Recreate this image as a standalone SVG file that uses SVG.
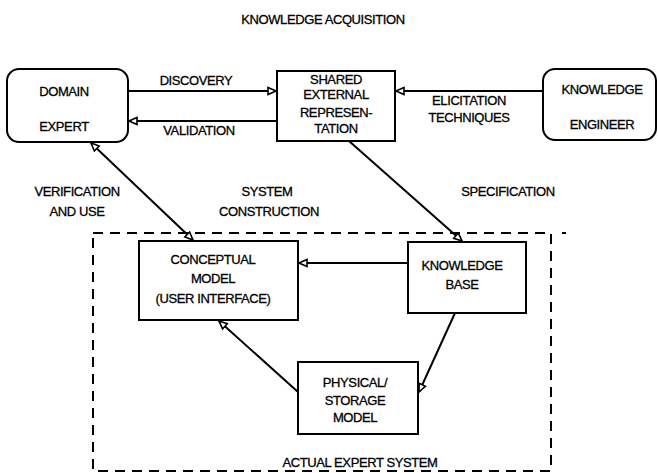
<svg xmlns="http://www.w3.org/2000/svg" width="658" height="473" viewBox="0 0 658 473">
  <style>
    .box { fill: #fff; stroke: #000; stroke-width: 2; }
    .lbl { font-family: "Liberation Sans", Arial, sans-serif; font-size: 13px; fill: #000; stroke: #000; stroke-width: 0.3; text-anchor: middle; letter-spacing: -0.4px; }
    .wire { fill: none; stroke: #000; stroke-width: 2; }
    .frame { fill: none; stroke: #000; stroke-width: 2; stroke-dasharray: 10 7; }
  </style>
  <defs>
    <marker id="tri" viewBox="0 0 10 10" refX="9" refY="5" markerWidth="10" markerHeight="10" markerUnits="userSpaceOnUse" orient="auto-start-reverse">
      <path d="M1,1.5 L9,5 L1,8.5 Z" fill="#fff" stroke="#000" stroke-width="1.6"/>
    </marker>
  </defs>

  <rect width="658" height="473" fill="#fff"/>

  <text class="lbl" x="323" y="24">KNOWLEDGE ACQUISITION</text>

  <!-- boundary of the actual expert system -->
  <g id="expert-system-boundary">
    <rect class="frame" x="93" y="233" width="458" height="238"/>
    <path class="wire" d="M562,233 H566"/>
    <text class="lbl" x="360" y="467">ACTUAL EXPERT SYSTEM</text>
  </g>

  <g id="connectors">
    <path class="wire" d="M128,91 H276" marker-end="url(#tri)"/>
    <path class="wire" d="M277,121 H129" marker-end="url(#tri)"/>
    <path class="wire" d="M543,91 H396" marker-end="url(#tri)"/>
    <path class="wire" d="M193,240 L91,143" marker-start="url(#tri)" marker-end="url(#tri)"/>
    <path class="wire" d="M349,141 L462,241" marker-end="url(#tri)"/>
    <path class="wire" d="M408,263 H299" marker-end="url(#tri)"/>
    <path class="wire" d="M455,313 L419,392" marker-end="url(#tri)"/>
    <path class="wire" d="M298,392 L219,321" marker-end="url(#tri)"/>
  </g>

  <g id="connector-labels">
    <text class="lbl" x="196" y="85">DISCOVERY</text>
    <text class="lbl" x="199" y="135">VALIDATION</text>
    <text class="lbl" x="469" y="105">ELICITATION</text>
    <text class="lbl" x="469" y="122">TECHNIQUES</text>
    <text class="lbl" x="77" y="196">VERIFICATION</text>
    <text class="lbl" x="77" y="216">AND USE</text>
    <text class="lbl" x="267" y="196">SYSTEM</text>
    <text class="lbl" x="269" y="216">CONSTRUCTION</text>
    <text class="lbl" x="508" y="196">SPECIFICATION</text>
  </g>

  <g id="domain-expert">
    <rect class="box" x="7" y="69" width="121" height="73" rx="12"/>
    <text class="lbl" x="64" y="96">DOMAIN</text>
    <text class="lbl" x="64" y="131">EXPERT</text>
  </g>

  <g id="shared-representation">
    <rect class="box" x="277" y="71" width="118" height="70"/>
    <text class="lbl" x="336" y="84">SHARED</text>
    <text class="lbl" x="336" y="99">EXTERNAL</text>
    <text class="lbl" x="336" y="117">REPRESEN-</text>
    <text class="lbl" x="336" y="133">TATION</text>
  </g>

  <g id="knowledge-engineer">
    <rect class="box" x="543" y="69" width="113" height="71" rx="12"/>
    <text class="lbl" x="602" y="94">KNOWLEDGE</text>
    <text class="lbl" x="602" y="129">ENGINEER</text>
  </g>

  <g id="conceptual-model">
    <rect class="box" x="139" y="241" width="159" height="79"/>
    <text class="lbl" x="213" y="264">CONCEPTUAL</text>
    <text class="lbl" x="213" y="283">MODEL</text>
    <text class="lbl" x="213" y="303">(USER INTERFACE)</text>
  </g>

  <g id="knowledge-base">
    <rect class="box" x="408" y="242" width="118" height="71"/>
    <text class="lbl" x="462" y="270">KNOWLEDGE</text>
    <text class="lbl" x="462" y="289">BASE</text>
  </g>

  <g id="physical-storage-model">
    <rect class="box" x="298" y="362" width="120" height="72"/>
    <text class="lbl" x="355" y="387">PHYSICAL/</text>
    <text class="lbl" x="355" y="405">STORAGE</text>
    <text class="lbl" x="355" y="422">MODEL</text>
  </g>
</svg>
